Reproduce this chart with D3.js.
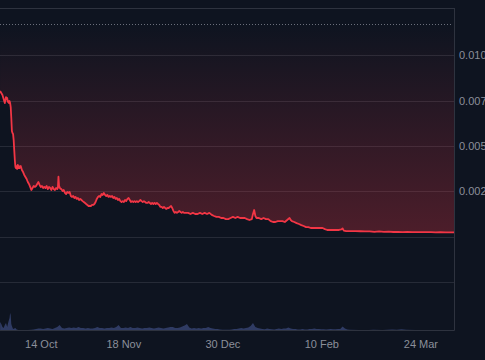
<!DOCTYPE html>
<html>
<head>
<meta charset="utf-8">
<script src="https://cdn.jsdelivr.net/npm/d3@7"></script>
<style>
  html, body { margin: 0; padding: 0; background: #0e1420; overflow: hidden; }
  svg { display: block; }
</style>
</head>
<body>
<svg id="chart" width="485" height="360"></svg>
<script>
// ---------- DATA ----------
const priceTimes = [
  "2024-09-26T18","2024-09-27T06","2024-09-27T18","2024-09-28T06","2024-09-28T12","2024-09-28T18",
  "2024-09-29T00","2024-09-29T06","2024-09-29T12","2024-09-29T18","2024-09-30T00","2024-09-30T06",
  "2024-09-30T12","2024-09-30T18","2024-10-01T00","2024-10-01T06","2024-10-01T12","2024-10-01T18",
  "2024-10-02T00","2024-10-02T06","2024-10-02T12","2024-10-02T18","2024-10-03T00","2024-10-03T06",
  "2024-10-03T12","2024-10-03T18","2024-10-04T00","2024-10-04T06","2024-10-04T12","2024-10-04T18",
  "2024-10-05T00","2024-10-05T12","2024-10-06T00","2024-10-06T12","2024-10-07T00","2024-10-07T12",
  "2024-10-08T00","2024-10-08T12","2024-10-09T00","2024-10-09T12","2024-10-10T00","2024-10-10T12",
  "2024-10-11T00","2024-10-11T12","2024-10-12T00","2024-10-12T12","2024-10-13T00","2024-10-13T12",
  "2024-10-14T00","2024-10-14T12","2024-10-15T00","2024-10-15T12","2024-10-16T00","2024-10-16T12",
  "2024-10-17T00","2024-10-17T12","2024-10-18T00","2024-10-18T12","2024-10-19T00","2024-10-19T12",
  "2024-10-20T00","2024-10-20T12","2024-10-21T00","2024-10-21T06","2024-10-21T12","2024-10-21T18",
  "2024-10-22T06","2024-10-22T18","2024-10-23T06","2024-10-23T18","2024-10-24T06","2024-10-24T18",
  "2024-10-25T06","2024-10-25T18","2024-10-26T06","2024-10-26T18","2024-10-27T06","2024-10-27T18",
  "2024-10-28T06","2024-10-28T18","2024-10-29T06","2024-10-29T18","2024-10-30T06","2024-10-30T18",
  "2024-10-31T06","2024-10-31T18","2024-11-01T06","2024-11-01T18","2024-11-02T06","2024-11-02T18",
  "2024-11-03T06","2024-11-03T18","2024-11-04T06","2024-11-04T18","2024-11-05T06","2024-11-05T18",
  "2024-11-06T06","2024-11-06T18","2024-11-07T06","2024-11-07T18","2024-11-08T06","2024-11-08T18",
  "2024-11-09T06","2024-11-09T18","2024-11-10T06","2024-11-10T18","2024-11-11T06","2024-11-11T18",
  "2024-11-12T06","2024-11-12T18","2024-11-13T06","2024-11-13T18","2024-11-14T06","2024-11-14T18",
  "2024-11-15T06","2024-11-15T18","2024-11-16T06","2024-11-16T18","2024-11-17T06","2024-11-17T18",
  "2024-11-18T06","2024-11-18T18","2024-11-19T06","2024-11-19T18","2024-11-20T06","2024-11-20T18",
  "2024-11-21T06","2024-11-21T18","2024-11-22T06","2024-11-22T18","2024-11-23T06","2024-11-23T18",
  "2024-11-24T06","2024-11-24T18","2024-11-25T06","2024-11-25T18","2024-11-26T06","2024-11-26T18",
  "2024-11-27T06","2024-11-27T18","2024-11-28T06","2024-11-28T18","2024-11-29T06","2024-11-29T18",
  "2024-11-30T06","2024-11-30T18","2024-12-01T06","2024-12-01T18","2024-12-02T06","2024-12-02T18",
  "2024-12-03T06","2024-12-03T18","2024-12-04T06","2024-12-04T18","2024-12-05T06","2024-12-05T18",
  "2024-12-06T06","2024-12-06T18","2024-12-07T06","2024-12-07T18","2024-12-08T06","2024-12-08T18",
  "2024-12-09T06","2024-12-09T18","2024-12-10T06","2024-12-10T18","2024-12-11T06","2024-12-11T18",
  "2024-12-12T06","2024-12-12T18","2024-12-13T06","2024-12-13T18",
  "2024-12-14T12","2024-12-15T12","2024-12-16T12","2024-12-17T12","2024-12-18T12","2024-12-19T12",
  "2024-12-20T12","2024-12-21T12","2024-12-22T12","2024-12-23T12","2024-12-24T12","2024-12-25T12",
  "2024-12-26T12","2024-12-27T12","2024-12-28T12","2024-12-29T12","2024-12-30T12","2024-12-31T12",
  "2025-01-01T12","2025-01-02T12","2025-01-03T12","2025-01-04T12","2025-01-05T12","2025-01-06T12",
  "2025-01-07T12","2025-01-08T12","2025-01-09T12","2025-01-10T12","2025-01-11T12","2025-01-12T00",
  "2025-01-12T12","2025-01-13T00","2025-01-13T12","2025-01-14T12","2025-01-15T12","2025-01-16T12",
  "2025-01-17T12","2025-01-18T12","2025-01-19T12","2025-01-20T12","2025-01-21T12","2025-01-22T12",
  "2025-01-23T12","2025-01-24T12","2025-01-25T12","2025-01-26T12","2025-01-27T12","2025-01-28T00",
  "2025-01-28T12","2025-01-29T12","2025-01-30T12","2025-01-31T12","2025-02-01T12","2025-02-02T12",
  "2025-02-03T12","2025-02-04T12","2025-02-05T12","2025-02-06T12","2025-02-07T12","2025-02-08T12",
  "2025-02-09T12","2025-02-10T12","2025-02-11T12","2025-02-12T12","2025-02-13T12","2025-02-14T12",
  "2025-02-15T12","2025-02-16T12","2025-02-17T12","2025-02-18T12","2025-02-19T00","2025-02-19T12",
  "2025-02-20T12","2025-02-21T12","2025-02-22T12","2025-02-24T12","2025-02-26T12","2025-02-28T12",
  "2025-03-02T12","2025-03-04T12","2025-03-06T12","2025-03-08T12","2025-03-10T12","2025-03-12T12",
  "2025-03-14T12","2025-03-16T12","2025-03-18T12","2025-03-20T12","2025-03-22T12","2025-03-24T12",
  "2025-03-26T12","2025-03-28T12","2025-03-30T12","2025-04-01T12","2025-04-03T12","2025-04-05T12",
  "2025-04-07T06"
];
const priceValues = [
  0.00802,0.00791,0.00780,0.00758,0.00747,0.00736,
  0.00753,0.00769,0.00758,0.00764,0.00742,0.00747,
  0.00736,0.00747,0.00736,0.00714,0.00654,0.00582,
  0.00571,0.00566,0.00533,0.00477,0.00422,0.00384,
  0.00378,0.00389,0.00373,0.00395,0.00378,0.00389,
  0.00378,0.00389,0.00367,0.00356,0.00340,0.00329,
  0.00318,0.00301,0.00290,0.00274,0.00257,0.00268,
  0.00279,0.00274,0.00279,0.00290,0.00301,0.00285,
  0.00274,0.00279,0.00268,0.00274,0.00268,0.00279,
  0.00262,0.00274,0.00268,0.00257,0.00274,0.00262,
  0.00257,0.00268,0.00262,0.00268,0.00330,0.00280,
  0.00265,0.00262,0.00251,0.00257,0.00241,0.00235,
  0.00246,0.00241,0.00246,0.00224,0.00219,0.00224,
  0.00213,0.00219,0.00208,0.00213,0.00202,0.00208,
  0.00202,0.00196,0.00191,0.00186,0.00180,0.00175,
  0.00169,0.00169,0.00169,0.00175,0.00175,0.00180,
  0.00191,0.00208,0.00219,0.00224,0.00219,0.00235,
  0.00230,0.00241,0.00230,0.00224,0.00230,0.00219,
  0.00224,0.00219,0.00224,0.00213,0.00219,0.00208,
  0.00213,0.00202,0.00208,0.00196,0.00191,0.00196,
  0.00191,0.00202,0.00196,0.00208,0.00213,0.00202,
  0.00191,0.00196,0.00191,0.00196,0.00191,0.00196,
  0.00191,0.00196,0.00202,0.00196,0.00191,0.00196,
  0.00191,0.00186,0.00186,0.00191,0.00186,0.00180,
  0.00186,0.00180,0.00186,0.00180,0.00186,0.00180,
  0.00175,0.00164,0.00164,0.00158,0.00164,0.00158,
  0.00153,0.00158,0.00158,0.00164,0.00169,0.00158,
  0.00142,0.00131,0.00136,0.00131,0.00136,0.00142,
  0.00136,0.00131,0.00136,0.00131,
  0.00131,0.00131,0.00125,0.00131,0.00125,0.00125,
  0.00131,0.00125,0.00131,0.00125,0.00131,0.00120,
  0.00114,0.00109,0.00109,0.00103,0.00103,0.00097,
  0.00097,0.00103,0.00109,0.00103,0.00109,0.00103,
  0.00103,0.00103,0.00097,0.00092,0.00097,0.00125,
  0.00147,0.00114,0.00103,0.00103,0.00097,0.00103,
  0.00097,0.00097,0.00086,0.00081,0.00081,0.00086,
  0.00086,0.00086,0.00081,0.00092,0.00103,0.00092,
  0.00086,0.00081,0.00075,0.00070,0.00064,0.00059,
  0.00053,0.00053,0.00048,0.00048,0.00048,0.00048,
  0.00048,0.00048,0.00042,0.00037,0.00037,0.00037,
  0.00037,0.00037,0.00037,0.00040,0.00046,0.00033,
  0.00031,0.00031,0.00031,0.00031,0.00030,0.00029,
  0.00029,0.00027,0.00029,0.00027,0.00028,0.00026,
  0.00026,0.00025,0.00026,0.00025,0.00025,0.00025,
  0.00025,0.00025,0.00024,0.00025,0.00024,0.00024,
  0.00024
];

const volumeTimes = [
  "2024-09-26T18","2024-09-27T06","2024-09-27T18","2024-09-28T06","2024-09-28T18","2024-09-29T06",
  "2024-09-29T18","2024-09-30T06","2024-09-30T18","2024-10-01T00","2024-10-01T06","2024-10-01T12",
  "2024-10-01T18","2024-10-02T06","2024-10-02T18","2024-10-03T06","2024-10-03T18","2024-10-04T12",
  "2024-10-06T12","2024-10-08T12","2024-10-10T00","2024-10-11T00","2024-10-12T00","2024-10-13T00",
  "2024-10-14T00","2024-10-15T00","2024-10-16T00","2024-10-17T00","2024-10-18T00","2024-10-19T00",
  "2024-10-20T00","2024-10-21T00","2024-10-22T00","2024-10-23T00","2024-10-24T00","2024-10-25T00",
  "2024-10-26T00","2024-10-27T00","2024-10-28T00","2024-10-29T00","2024-10-30T00","2024-10-31T00",
  "2024-11-01T00","2024-11-02T00","2024-11-03T00","2024-11-04T00","2024-11-05T00","2024-11-06T00",
  "2024-11-07T00","2024-11-08T00","2024-11-09T00","2024-11-10T00","2024-11-11T00","2024-11-12T00",
  "2024-11-13T00","2024-11-14T00","2024-11-15T00","2024-11-16T00","2024-11-17T00","2024-11-18T00",
  "2024-11-19T00","2024-11-20T00","2024-11-21T00","2024-11-22T00","2024-11-23T00","2024-11-24T00",
  "2024-11-25T00","2024-11-26T00","2024-11-27T00","2024-11-28T00","2024-11-29T00","2024-11-30T00",
  "2024-12-01T00","2024-12-02T00","2024-12-03T00","2024-12-04T00","2024-12-05T00","2024-12-06T00",
  "2024-12-07T00","2024-12-08T00","2024-12-09T00","2024-12-10T00","2024-12-11T00","2024-12-12T00",
  "2024-12-13T00","2024-12-14T00","2024-12-15T00","2024-12-16T00","2024-12-17T00","2024-12-18T00",
  "2024-12-19T00","2024-12-20T00","2024-12-21T00","2024-12-22T00","2024-12-23T00","2024-12-24T00",
  "2024-12-25T00","2024-12-26T00","2024-12-27T00","2024-12-28T00","2024-12-29T00","2024-12-30T00",
  "2024-12-31T00","2025-01-01T00","2025-01-02T00","2025-01-03T00","2025-01-04T00","2025-01-05T00",
  "2025-01-06T00","2025-01-07T00","2025-01-08T00","2025-01-09T00","2025-01-10T00","2025-01-11T00",
  "2025-01-12T00","2025-01-13T00","2025-01-14T00","2025-01-15T00","2025-01-16T00","2025-01-17T00",
  "2025-01-18T00","2025-01-19T00","2025-01-20T00","2025-01-21T00","2025-01-22T00","2025-01-23T00",
  "2025-01-24T00","2025-01-25T00","2025-01-26T00","2025-01-27T00","2025-01-28T00","2025-01-29T00",
  "2025-01-30T00","2025-01-31T00","2025-02-01T00","2025-02-02T00","2025-02-03T00","2025-02-04T00",
  "2025-02-05T00","2025-02-06T00","2025-02-07T00","2025-02-08T00","2025-02-09T00","2025-02-10T00",
  "2025-02-11T00","2025-02-12T00","2025-02-13T00","2025-02-14T00","2025-02-15T00","2025-02-16T00",
  "2025-02-17T00","2025-02-18T00","2025-02-19T00","2025-02-20T00","2025-02-21T00","2025-02-22T00",
  "2025-02-26T00","2025-03-02T00","2025-03-04T00","2025-03-08T00","2025-03-12T00","2025-03-14T00",
  "2025-03-16T00","2025-03-18T00","2025-03-22T00","2025-03-28T00","2025-04-03T00","2025-04-07T06"
];
const volumeValues = [
  50,38,19,12,31,44,
  19,50,75,106,94,38,
  25,6,9,12,3,0,
  0,0,1,3,6,9,
  9,6,9,12,9,6,
  12,19,31,12,9,12,
  16,12,16,12,19,12,
  12,9,12,9,9,12,
  19,12,12,9,12,12,
  16,12,19,31,12,12,
  16,12,19,12,12,16,
  12,9,12,12,16,12,
  9,12,16,12,9,12,
  16,19,19,12,12,16,
  22,28,37,16,9,12,
  9,12,9,12,12,19,
  12,9,6,6,3,2,
  1,2,2,3,6,6,
  9,12,9,12,16,25,
  44,19,12,9,6,5,
  9,6,5,3,6,9,
  6,9,9,16,9,6,
  6,3,3,6,3,3,
  6,6,9,6,6,5,
  5,3,5,6,5,5,
  6,6,22,9,3,1,
  0,0,1,0,3,2,
  5,1,0,0,0,0
];

const xTickDates = ["2024-10-14","2024-11-18","2024-12-30","2025-02-10","2025-03-24"];
const yTickValues = [0.0025, 0.005, 0.0075, 0.010];
const yTickLabels = ["0.0025", "0.0050", "0.0075", "0.010"];
const gridValues = [-0.0025, 0, 0.0025, 0.005, 0.0075, 0.010];
const refLineValue = 0.01171;

// ---------- SETUP ----------
const W = 485, H = 360;
const plot = { left: 0, right: 454, top: 8, bottom: 330 };
const parseT = d3.utcParse("%Y-%m-%dT%H");
const parseD = d3.utcParse("%Y-%m-%d");

const price = priceTimes.map((t, i) => ({ t: parseT(t), v: priceValues[i] }));
const volume = volumeTimes.map((t, i) => ({ t: parseT(t), v: volumeValues[i] }));

const x = d3.scaleUtc()
  .domain([parseT("2024-09-26T17"), parseT("2025-04-07T06")])
  .range([plot.left, plot.right]);
const y = d3.scaleLinear().domain([0, 0.01]).range([236.7, 55.1]);
const yVol = d3.scaleLinear().domain([0, 100]).range([plot.bottom, plot.bottom - 16]);

const svg = d3.select("#chart");
svg.append("rect").attr("width", W).attr("height", H).attr("fill", "#0e1420");

const defs = svg.append("defs");
defs.append("clipPath").attr("id", "clip")
  .append("rect").attr("x", plot.left).attr("y", plot.top)
  .attr("width", plot.right - plot.left).attr("height", plot.bottom - plot.top);
const grad = defs.append("linearGradient").attr("id", "fillGrad")
  .attr("gradientUnits", "userSpaceOnUse")
  .attr("x1", 0).attr("x2", 0).attr("y1", y(0.0117)).attr("y2", y(0));
grad.append("stop").attr("offset", "0%").attr("stop-color", "#f23645").attr("stop-opacity", 0.0);
grad.append("stop").attr("offset", "100%").attr("stop-color", "#f23645").attr("stop-opacity", 0.28);

// Grid lines
svg.append("g").selectAll("line").data(gridValues).join("line")
  .attr("x1", plot.left).attr("x2", plot.right)
  .attr("y1", d => Math.round(y(d)) + 0.5).attr("y2", d => Math.round(y(d)) + 0.5)
  .attr("stroke", "#262b37").attr("stroke-width", 1);

const g = svg.append("g").attr("clip-path", "url(#clip)");

// Gradient fill above the line
g.append("path").datum(price)
  .attr("fill", "url(#fillGrad)")
  .attr("d", d3.area().x(d => x(d.t)).y0(plot.top).y1(d => y(d.v)));

// Volume
g.append("path").datum(volume)
  .attr("fill", "#2f3b63")
  .attr("d", d3.area().x(d => x(d.t)).y0(plot.bottom).y1(d => yVol(d.v)));

// Price line
g.append("path").datum(price)
  .attr("fill", "none")
  .attr("stroke", "#f23645")
  .attr("stroke-width", 1.8)
  .attr("stroke-linejoin", "round")
  .attr("d", d3.line().x(d => x(d.t)).y(d => y(d.v)));

// Dotted reference line
svg.append("line")
  .attr("x1", plot.left).attr("x2", plot.right - 1)
  .attr("y1", Math.round(y(refLineValue)) + 0.5).attr("y2", Math.round(y(refLineValue)) + 0.5)
  .attr("stroke", "#6b6f7b").attr("stroke-width", 1).attr("stroke-dasharray", "1 2");

// Borders
const border = svg.append("g").attr("stroke", "#2e333f").attr("stroke-width", 1).attr("fill", "none");
border.append("line").attr("x1", plot.left).attr("x2", plot.right + 0.5).attr("y1", plot.top + 0.5).attr("y2", plot.top + 0.5);
border.append("line").attr("x1", plot.right + 0.5).attr("x2", plot.right + 0.5).attr("y1", plot.top).attr("y2", plot.bottom + 0.5);
border.append("line").attr("x1", plot.left).attr("x2", plot.right + 0.5).attr("y1", plot.bottom + 0.5).attr("y2", plot.bottom + 0.5);

// Right axis
const yAxis = d3.axisRight(y).tickValues(yTickValues)
  .tickFormat((d, i) => yTickLabels[i]).tickSize(0).tickPadding(5);
const ya = svg.append("g").attr("transform", `translate(${plot.right},0)`).call(yAxis);
ya.select(".domain").remove();
ya.selectAll("text").attr("fill", "#8b8f9a").attr("font-size", 11)
  .attr("font-family", "'Liberation Sans', Arial, sans-serif");

// Bottom axis
const xAxis = d3.axisBottom(x).tickValues(xTickDates.map(parseD))
  .tickFormat(d3.utcFormat("%d %b")).tickSize(0).tickPadding(10);
const xa = svg.append("g").attr("transform", `translate(0,${plot.bottom})`).call(xAxis);
xa.select(".domain").remove();
xa.selectAll("text").attr("fill", "#8b8f9a").attr("font-size", 11)
  .attr("font-family", "'Liberation Sans', Arial, sans-serif");
</script>
</body>
</html>
